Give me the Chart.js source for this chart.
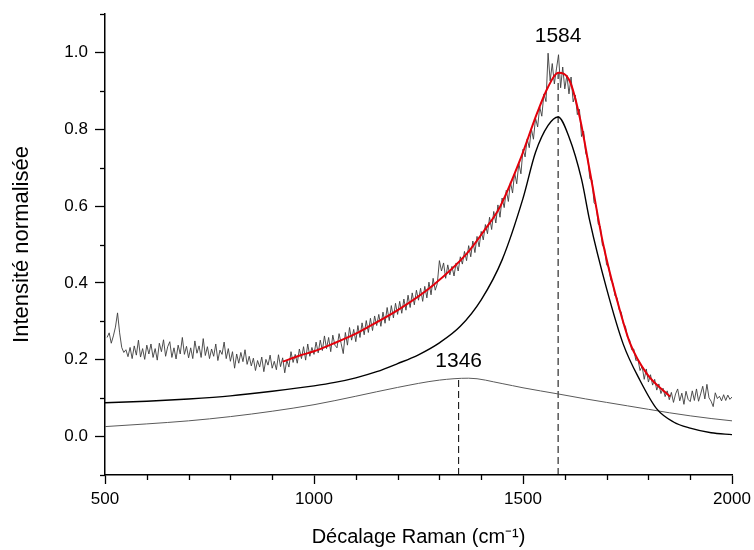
<!DOCTYPE html>
<html>
<head>
<meta charset="utf-8">
<script src="https://cdn.jsdelivr.net/npm/chart.js@4.4.1/dist/chart.umd.min.js"></script>
<style>
html,body{margin:0;padding:0;background:#fff;}
canvas{display:block;}
</style>
</head>
<body>
<canvas id="c" width="754" height="550"></canvas>
<script>
// ---- Measured spectrum (Raman shift, cm-1) ----
const ramanShift = [
 505,510,515,520,525,530,535,540,545,550,
 555,560,565,570,575,580,585,590,595,600,
 605,610,615,620,625,630,635,640,645,650,
 655,660,665,670,675,680,685,690,695,700,
 705,710,715,720,725,730,735,740,745,750,
 755,760,765,770,775,780,785,790,795,800,
 805,810,815,820,825,830,835,840,845,850,
 855,860,865,870,875,880,885,890,895,900,
 905,910,915,920,925,930,935,940,945,950,
 955,960,965,970,975,980,985,990,995,1000,
 1005,1010,1015,1020,1025,1030,1035,1040,1045,1050,
 1055,1060,1065,1070,1075,1080,1085,1090,1095,1100,
 1105,1110,1115,1120,1125,1130,1135,1140,1145,1150,
 1155,1160,1165,1170,1175,1180,1185,1190,1195,1200,
 1205,1210,1215,1220,1225,1230,1235,1240,1245,1250,
 1255,1260,1265,1270,1275,1280,1285,1290,1295,1300,
 1305,1310,1315,1320,1325,1330,1335,1340,1345,1350,
 1355,1360,1365,1370,1375,1380,1385,1390,1395,1400,
 1405,1410,1415,1420,1425,1430,1435,1440,1445,1450,
 1455,1460,1465,1470,1475,1480,1485,1490,1495,1500,
 1505,1510,1515,1520,1525,1530,1535,1540,1545,1550,
 1555,1560,1565,1570,1575,1580,1585,1590,1595,1600,
 1605,1610,1615,1620,1625,1630,1635,1640,1645,1650,
 1655,1660,1665,1670,1675,1680,1685,1690,1695,1700,
 1705,1710,1715,1720,1725,1730,1735,1740,1745,1750,
 1755,1760,1765,1770,1775,1780,1785,1790,1795,1800,
 1805,1810,1815,1820,1825,1830,1835,1840,1845,1850,
 1855,1860,1865,1870,1875,1880,1885,1890,1895,1900,
 1905,1910,1915,1920,1925,1930,1935,1940,1945,1950,
 1955,1960,1965,1970,1975,1980,1985,1990,1995,2000
];
const measuredIntensity = [
 0.258,0.270,0.243,0.262,0.285,0.322,0.270,0.232,0.219,0.226,
 0.208,0.232,0.203,0.236,0.212,0.251,0.207,0.229,0.201,0.238,
 0.215,0.241,0.206,0.229,0.199,0.243,0.221,0.252,0.209,0.234,
 0.247,0.206,0.231,0.202,0.238,0.215,0.258,0.214,0.235,0.205,
 0.231,0.203,0.249,0.217,0.236,0.206,0.255,0.211,0.234,0.203,
 0.228,0.209,0.241,0.198,0.225,0.214,0.246,0.203,0.229,0.196,
 0.221,0.178,0.215,0.191,0.219,0.195,0.226,0.188,0.209,0.184,
 0.204,0.172,0.198,0.181,0.207,0.169,0.201,0.186,0.212,0.178,
 0.196,0.174,0.213,0.182,0.205,0.166,0.199,0.181,0.221,0.193,
 0.214,0.191,0.228,0.203,0.234,0.199,0.241,0.209,0.232,0.214,
 0.246,0.218,0.251,0.224,0.262,0.229,0.258,0.221,0.264,0.238,
 0.231,0.268,0.242,0.216,0.271,0.238,0.284,0.251,0.279,0.247,
 0.289,0.258,0.296,0.265,0.302,0.271,0.308,0.276,0.314,0.289,
 0.318,0.287,0.324,0.295,0.336,0.302,0.341,0.309,0.347,0.318,
 0.352,0.321,0.358,0.329,0.368,0.336,0.374,0.343,0.381,0.355,
 0.386,0.352,0.391,0.361,0.402,0.369,0.412,0.381,0.398,0.458,
 0.431,0.452,0.412,0.447,0.421,0.443,0.418,0.452,0.431,0.468,
 0.449,0.482,0.458,0.497,0.468,0.509,0.479,0.521,0.494,0.534,
 0.512,0.552,0.528,0.571,0.539,0.586,0.556,0.603,0.571,0.621,
 0.596,0.641,0.612,0.663,0.634,0.687,0.658,0.711,0.684,0.748,
 0.728,0.775,0.752,0.801,0.774,0.829,0.806,0.858,0.834,0.892,
 0.872,0.998,0.926,0.971,0.918,0.957,0.994,0.908,0.962,0.905,
 0.941,0.892,0.936,0.871,0.889,0.838,0.852,0.781,0.795,0.738,
 0.724,0.671,0.668,0.609,0.602,0.553,0.547,0.498,0.491,0.447,
 0.441,0.408,0.399,0.367,0.361,0.331,0.324,0.294,0.287,0.258,
 0.252,0.226,0.228,0.198,0.201,0.172,0.183,0.149,0.176,0.142,
 0.161,0.134,0.149,0.121,0.137,0.112,0.126,0.104,0.119,0.096,
 0.115,0.089,0.111,0.124,0.093,0.113,0.084,0.118,0.097,0.091,
 0.119,0.094,0.124,0.092,0.111,0.131,0.098,0.136,0.101,0.092,
 0.078,0.114,0.099,0.105,0.093,0.109,0.094,0.108,0.097,0.103
];

// ---- Fitted envelope (red) ----
const fitShift = [925,966,1000,1046,1100,1126,1206,1285,1366,1405,1445,1493,1533,1560,1584,1612,1636,1660,1692,1725,1756,1796,1852];
const fitIntensity = [0.195,0.211,0.222,0.242,0.268,0.283,0.333,0.394,0.477,0.533,0.598,0.720,0.840,0.910,0.947,0.925,0.830,0.690,0.500,0.355,0.243,0.164,0.104];

// ---- G band component (black) ----
const gShift = [500,600,700,800,900,1000,1050,1100,1150,1200,1250,1300,1350,1400,1450,1500,1530,1560,1584,1610,1640,1660,1700,1740,1780,1820,1860,1900,1950,2000];
const gIntensity = [0.088,0.092,0.098,0.106,0.118,0.132,0.141,0.153,0.169,0.190,0.213,0.244,0.287,0.356,0.460,0.620,0.740,0.810,0.832,0.780,0.670,0.560,0.385,0.240,0.146,0.072,0.038,0.022,0.010,0.005];

// ---- D band component (grey) ----
const dShift = [500,600,700,800,900,1000,1100,1200,1300,1370,1450,1500,1584,1650,1700,1750,1800,1850,1900,1950,2000];
const dIntensity = [0.026,0.033,0.041,0.052,0.066,0.083,0.105,0.128,0.147,0.152,0.138,0.127,0.111,0.098,0.089,0.080,0.071,0.062,0.054,0.047,0.041];

// ---- Peak markers ----
const peakPositions = [1346, 1584];
const peakTops = [0.152, 0.947];
const peakLabels = ['1346', '1584'];

// ---- Axis ticks ----
const xMajorTicks = [500, 1000, 1500, 2000];
const yMajorTicks = [0.0, 0.2, 0.4, 0.6, 0.8, 1.0];

const toXY = (xs, ys) => xs.map((x, i) => ({x: x, y: ys[i]}));
const yMin = -0.1, yMax = 1.1;

const isXMajor = v => xMajorTicks.some(t => Math.abs(t - v) < 1e-6);
const isYMajor = v => yMajorTicks.some(t => Math.abs(t - v) < 1e-6);

const datasets = [
  {label: 'Ajustement', data: toXY(fitShift, fitIntensity), borderColor: '#e3000b', borderWidth: 2,
   pointRadius: 0, tension: 0.4, cubicInterpolationMode: 'monotone', fill: false},
  {label: 'Spectre', data: toXY(ramanShift, measuredIntensity), borderColor: '#3c3c3c', borderWidth: 0.9,
   pointRadius: 0, tension: 0, fill: false},
  {label: 'G', data: toXY(gShift, gIntensity), borderColor: '#000000', borderWidth: 1.4,
   pointRadius: 0, tension: 0.4, cubicInterpolationMode: 'monotone', fill: false},
  {label: 'D', data: toXY(dShift, dIntensity), borderColor: '#5a5a5a', borderWidth: 1,
   pointRadius: 0, tension: 0.4, cubicInterpolationMode: 'monotone', fill: false}
];
peakPositions.forEach((p, i) => {
  datasets.push({label: 'peak' + i, data: [{x: p, y: yMin}, {x: p, y: peakTops[i]}],
    borderColor: '#000', borderWidth: 1, borderDash: [7, 4], pointRadius: 0, fill: false});
});

const minorTickPlugin = {
  id: 'minorTicks',
  afterDraw(chart) {
    const {ctx} = chart;
    const xs = chart.scales.x, ys = chart.scales.y;
    ctx.save();
    ctx.strokeStyle = '#000';
    ctx.lineWidth = 1.3;
    xs.ticks.forEach(t => {
      if (isXMajor(t.value)) return;
      const px = Math.round(xs.getPixelForValue(t.value)) + 0.5;
      ctx.beginPath(); ctx.moveTo(px, xs.top); ctx.lineTo(px, xs.top + 5); ctx.stroke();
    });
    ys.ticks.forEach(t => {
      if (isYMajor(t.value)) return;
      const py = Math.round(ys.getPixelForValue(t.value)) + 0.5;
      ctx.beginPath(); ctx.moveTo(ys.right - 5, py); ctx.lineTo(ys.right, py); ctx.stroke();
    });
    ctx.restore();
  }
};

const peakLabelPlugin = {
  id: 'peakLabels',
  afterDatasetsDraw(chart, args, opts) {
    const {ctx} = chart;
    const xs = chart.scales.x, ys = chart.scales.y;
    ctx.save();
    ctx.fillStyle = '#000';
    ctx.font = '21px "Liberation Sans", Arial, sans-serif';
    ctx.textAlign = 'center';
    ctx.textBaseline = 'middle';
    peakLabels.forEach((lab, i) => {
      ctx.fillText(lab, xs.getPixelForValue(peakPositions[i]), ys.getPixelForValue(opts.labelY[i]));
    });
    ctx.restore();
  }
};

const fontFam = '"Liberation Sans", Arial, sans-serif';

new Chart(document.getElementById('c'), {
  type: 'line',
  data: {datasets: datasets},
  plugins: [minorTickPlugin, peakLabelPlugin],
  options: {
    responsive: false,
    animation: false,
    layout: {padding: {left: 0, right: 22, top: 14, bottom: 0}},
    plugins: {
      legend: {display: false},
      tooltip: {enabled: false},
      peakLabels: {labelY: [0.196, 1.041]}
    },
    scales: {
      x: {
        type: 'linear', min: 500, max: 2000,
        border: {display: true, color: '#000', width: 1.5},
        grid: {drawOnChartArea: false, drawTicks: true, tickLength: 9, tickWidth: 1.3,
               tickColor: ctx => isXMajor(ctx.tick.value) ? '#000' : 'rgba(0,0,0,0)'},
        ticks: {stepSize: 100, autoSkip: false, maxRotation: 0, padding: 5, color: '#000',
                font: {family: fontFam, size: 17},
                callback: v => isXMajor(v) ? String(v) : ''},
        title: {display: true, text: 'Décalage Raman (cm⁻¹)', color: '#000',
                font: {family: fontFam, size: 20}, padding: {top: 0, bottom: 1}},
        afterFit: s => { s.height = 75; s.paddingLeft = 0; s.paddingRight = 0; }
      },
      y: {
        type: 'linear', min: yMin, max: yMax,
        border: {display: true, color: '#000', width: 1.5},
        grid: {drawOnChartArea: false, drawTicks: true, tickLength: 10, tickWidth: 1.3,
               tickColor: ctx => isYMajor(ctx.tick.value) ? '#000' : 'rgba(0,0,0,0)'},
        ticks: {stepSize: 0.1, autoSkip: false, padding: 7, color: '#000',
                font: {family: fontFam, size: 17},
                callback: v => isYMajor(v) ? v.toFixed(1) : ''},
        title: {display: true, text: 'Intensité normalisée', color: '#000',
                font: {family: fontFam, size: 22}, padding: {top: 9, bottom: 0}},
        afterFit: s => { s.width = 105; s.paddingTop = 0; s.paddingBottom = 0; }
      }
    }
  }
});
</script>
</body>
</html>
